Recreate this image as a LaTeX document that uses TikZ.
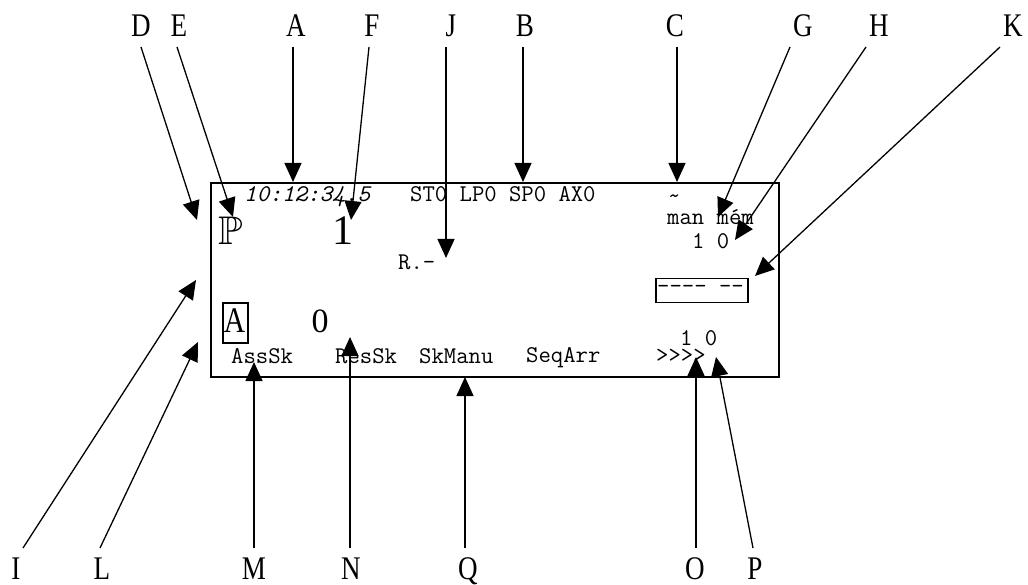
\documentclass[tikz,border=0pt]{standalone}
\usepackage{fontspec}
\usepackage{amssymb}
\usepackage{graphicx}
\setmainfont{Liberation Serif}
\usetikzlibrary{arrows.meta}
\tikzset{
  lbl/.style={inner sep=0pt, anchor=base, font=\fontsize{33}{33}\selectfont},
  arr/.style={line width=1.3pt, -{Triangle[length=19pt,width=17pt]}},
  mt/.style={inner sep=0pt, anchor=base west, font=\fontsize{24}{24}\selectfont\ttfamily},
  big/.style={inner sep=0pt, anchor=base, font=\fontsize{38}{38}\selectfont},
}
\newcommand{\cond}[1]{\scalebox{0.82}[1]{#1}}
\begin{document}
\begin{tikzpicture}[x=1pt,y=-1pt]
\useasboundingbox (0,0) rectangle (1028,585);
% screen frame
\node[draw, line width=2pt, inner sep=0pt, anchor=north west, minimum width=568pt, minimum height=194pt] (screen) at (210,182) {};
% screen content
\node[mt, font=\fontsize{24}{24}\selectfont\ttfamily\itshape] (time) at (244,202) {10:12:34.5};
\node[mt] (st) at (410,202) {ST0 LP0 SP0 AX0};
\node[mt] (tilde) at (668,204) {\textasciitilde};
\node[mt] (man) at (667,225) {man mém};
\node[mt] (man10) at (692,249) {1 0};
\node[mt] (rr) at (398,270) {R.-};
\node[mt] (dash) at (657,294) {-{}-{}-{}- -{}-};
\node[draw, line width=1.5pt, inner sep=0pt, anchor=north west, minimum width=92pt, minimum height=24pt] (dashbox) at (655,278) {};
\node[big, font=\fontsize{40}{40}\selectfont] (P) at (231,245) {$\mathbb{P}$};
\node[big, font=\fontsize{42}{42}\selectfont] (one) at (343,245) {1};
\node[big, font=\fontsize{36}{36}\selectfont] (A) at (234.5,333) {\cond{A}};
\node[draw, line width=1.8pt, inner sep=0pt, anchor=north west, minimum width=25pt, minimum height=40pt] (Abox) at (222,302) {};
\node[big, font=\fontsize{34}{34}\selectfont] (zero) at (320,333) {0};
\node[mt] (ass) at (231,363) {AssSk};
\node[mt] (res) at (335,363) {ResSk};
\node[mt] (skm) at (419,363) {SkManu};
\node[mt] (seq) at (526,362) {SeqArr};
\node[mt] (gt) at (656,362) {>{}>{}>{}>};
\node[mt] (ten) at (680,345) {1 0};
% top labels
\node[lbl] (lD) at (141,37) {\cond{D}};
\node[lbl] (lE) at (179,37) {\cond{E}};
\node[lbl] (lA) at (296,37) {\cond{A}};
\node[lbl] (lF) at (372,37) {\cond{F}};
\node[lbl] (lJ) at (451,37) {\cond{J}};
\node[lbl] (lB) at (525,37) {\cond{B}};
\node[lbl] (lC) at (675,37) {\cond{C}};
\node[lbl] (lG) at (803,37) {\cond{G}};
\node[lbl] (lH) at (879,37) {\cond{H}};
\node[lbl] (lK) at (1013,37) {\cond{K}};
% bottom labels
\node[lbl] (lI) at (16,579) {\cond{I}};
\node[lbl] (lL) at (102,579) {\cond{L}};
\node[lbl] (lM) at (254,579) {\cond{M}};
\node[lbl] (lN) at (351,579) {\cond{N}};
\node[lbl] (lQ) at (468,579) {\cond{Q}};
\node[lbl] (lO) at (695,579) {\cond{O}};
\node[lbl] (lP) at (755,579) {\cond{P}};
% arrow start and tip coordinates
\coordinate (sD) at (141,47);  \coordinate (tD) at (197,220);
\coordinate (sE) at (177,47);  \coordinate (tE) at (233,217);
\coordinate (sA) at (293,47);  \coordinate (tA) at (293,182);
\coordinate (sF) at (369,47);  \coordinate (tF) at (351,220);
\coordinate (sJ) at (446,47);  \coordinate (tJ) at (446,258);
\coordinate (sB) at (523,47);  \coordinate (tB) at (523,182);
\coordinate (sC) at (677,47);  \coordinate (tC) at (677,182);
\coordinate (sG) at (790,47);  \coordinate (tG) at (718,217);
\coordinate (sH) at (866,47);  \coordinate (tH) at (735,240);
\coordinate (sK) at (1000,47); \coordinate (tK) at (755,276);
\coordinate (sI) at (23,548);  \coordinate (tI) at (196,280);
\coordinate (sL) at (100,548); \coordinate (tL) at (198,342);
\coordinate (sM) at (254,548); \coordinate (tM) at (254,362);
\coordinate (sN) at (350,548); \coordinate (tN) at (350,337);
\coordinate (sQ) at (465,548); \coordinate (tQ) at (465,377);
\coordinate (sO) at (696,548); \coordinate (tO) at (696,357);
\coordinate (sP) at (753,548); \coordinate (tP) at (716,357);
\foreach \k in {D,E,A,F,J,B,C,G,H,K,I,L,M,N,Q,O,P}
  \draw[arr] (s\k) -- (t\k);
\end{tikzpicture}
\end{document}
